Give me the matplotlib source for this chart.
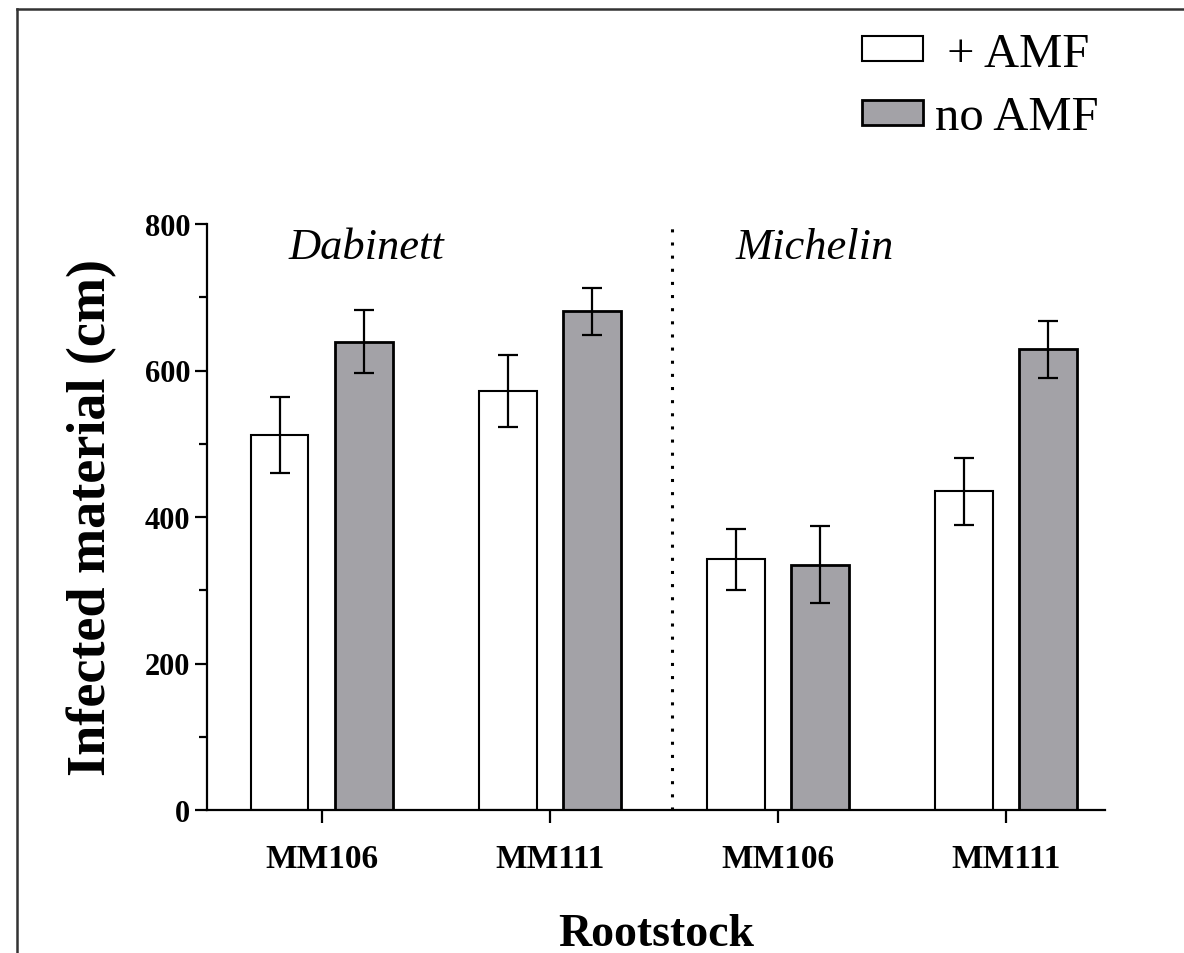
import matplotlib
matplotlib.use('Agg')
import matplotlib.pyplot as plt
import numpy as np
from matplotlib.lines import Line2D
from matplotlib.ticker import MultipleLocator

plt.rcParams.update({
    'font.family': 'Liberation Serif',
    'axes.linewidth': 1.6,
})

# data
rootstocks = ['MM106', 'MM111', 'MM106', 'MM111']
cultivars = ['Dabinett', 'Michelin']
amf_mean = [512, 572, 342, 435]
amf_err = [52, 49, 42, 46]
noamf_mean = [639, 681, 335, 629]
noamf_err = [43, 32, 53, 39]

W, H = 1184, 954
fig = plt.figure(figsize=(W / 100, H / 100), dpi=100)
ax = fig.add_axes([207 / W, 1 - 811 / H, (1105 - 207) / W, (811 - 225) / H])

x = np.arange(len(rootstocks))
off = 0.186
bw = 0.254
grey = '#a3a2a7'

ax.bar(x - off, amf_mean, bw, color='white', edgecolor='black', linewidth=1.5, zorder=2)
ax.bar(x + off, noamf_mean, bw, color=grey, edgecolor='black', linewidth=2.0, zorder=2)
ax.errorbar(x - off, amf_mean, yerr=amf_err, fmt='none', ecolor='black',
            elinewidth=1.6, capsize=7, capthick=1.6, zorder=3)
ax.errorbar(x + off, noamf_mean, yerr=noamf_err, fmt='none', ecolor='black',
            elinewidth=1.6, capsize=7, capthick=1.6, zorder=3)

# divider between cultivars
ax.axvline(1.535, color='black', lw=2.2, linestyle=(0, (1, 3.3)), zorder=1)

ax.text(0.197, 768, cultivars[0], style='italic', fontsize=32, ha='center', va='center')
ax.text(2.16, 768, cultivars[1], style='italic', fontsize=32, ha='center', va='center')

ax.set_xlim(-0.504, 3.434)
ax.set_ylim(0, 800)
ax.yaxis.set_major_locator(MultipleLocator(200))
ax.yaxis.set_minor_locator(MultipleLocator(100))
ax.set_xticks(x)
ax.set_xticklabels(rootstocks, fontsize=24, fontweight='bold')
for lab in ax.get_yticklabels():
    lab.set_fontsize(22)
    lab.set_fontweight('bold')
ax.tick_params(axis='y', which='major', length=9, width=1.6, pad=3)
ax.tick_params(axis='y', which='minor', length=5.5, width=1.6)
ax.tick_params(axis='x', which='major', length=9, width=1.6, pad=15)
ax.spines['top'].set_visible(False)
ax.spines['right'].set_visible(False)

ax.set_xlabel('Rootstock', fontsize=33, fontweight='bold', labelpad=28)
ax.set_ylabel('Infected material (cm)', fontsize=39, fontweight='bold', labelpad=20)

# legend
handles = [plt.Rectangle((0, 0), 1, 1, facecolor='white', edgecolor='black', linewidth=1.5),
           plt.Rectangle((0, 0), 1, 1, facecolor=grey, edgecolor='black', linewidth=2.0)]
fig.legend(handles, [' + AMF', 'no AMF'], loc='upper left',
           bbox_to_anchor=(862 / W, 1 - 33 / H), frameon=False, fontsize=35,
           handlelength=1.255, handleheight=0.41, handletextpad=0.25,
           labelspacing=0.4, borderpad=0, borderaxespad=0)

# outer frame (left and top only)
fig.add_artist(Line2D([16.5 / W, 16.5 / W], [0, 1 - 9.5 / H], transform=fig.transFigure,
                      color='#333333', lw=1.8))
fig.add_artist(Line2D([16.5 / W, 1], [1 - 9.5 / H, 1 - 9.5 / H], transform=fig.transFigure,
                      color='#333333', lw=1.8))

fig.savefig('out.png', dpi=100, facecolor='white')
